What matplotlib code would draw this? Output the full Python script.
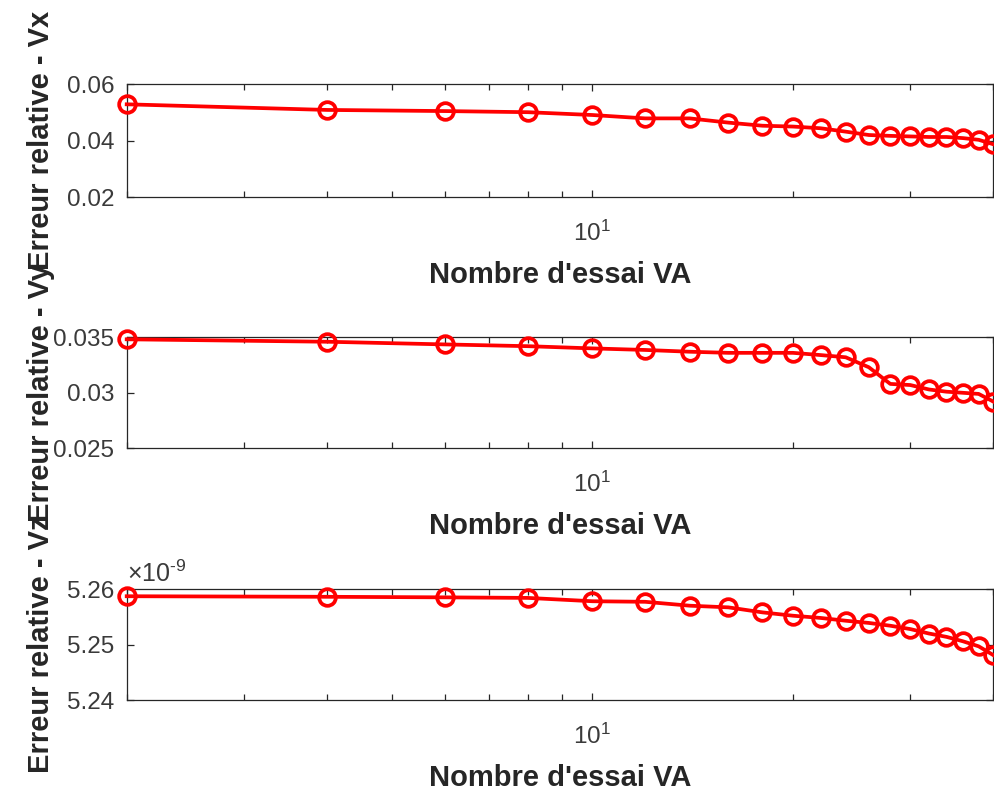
import matplotlib
matplotlib.use('Agg')
import matplotlib.pyplot as plt
from matplotlib.ticker import FixedLocator, NullFormatter, LogLocator

plt.rcParams['font.family'] = ['Liberation Sans', 'DejaVu Sans']
plt.rcParams['mathtext.fontset'] = 'custom'
plt.rcParams['mathtext.rm'] = 'Liberation Sans'
plt.rcParams['mathtext.it'] = 'Liberation Sans:italic'
plt.rcParams['mathtext.bf'] = 'Liberation Sans:bold'

# nombre d'essais
n_essai = [2, 4, 6, 8, 10, 12, 14, 16, 18, 20, 22, 24, 26, 28, 30, 32, 34, 36, 38, 40]

# erreurs relatives
err_vx = [0.0529, 0.0509, 0.0505, 0.0501, 0.0491, 0.0479, 0.0479, 0.0464, 0.0453, 0.0450,
          0.0444, 0.0432, 0.0420, 0.0417, 0.0415, 0.0413, 0.0413, 0.0409, 0.0403, 0.0387]
err_vy = [0.03482, 0.0346, 0.03436, 0.0342, 0.0340, 0.03386, 0.0337, 0.0336, 0.0336, 0.0336,
          0.0334, 0.0332, 0.0323, 0.0308, 0.0307, 0.0303, 0.0301, 0.0300, 0.0299, 0.0292]
err_vz = [5.2587e-9, 5.2586e-9, 5.2585e-9, 5.2584e-9, 5.2578e-9, 5.2577e-9, 5.2570e-9,
          5.2567e-9, 5.2558e-9, 5.2552e-9, 5.2548e-9, 5.2543e-9, 5.2539e-9, 5.2534e-9,
          5.2528e-9, 5.2520e-9, 5.2514e-9, 5.2506e-9, 5.2497e-9, 5.2481e-9]

series = [err_vx, err_vy, err_vz]
ylabels = ['Erreur relative - Vx', 'Erreur relative - Vy', 'Erreur relative - Vz']
ylims = [(0.02, 0.06), (0.025, 0.035), (5.24e-9, 5.26e-9)]
yticks = [[0.02, 0.04, 0.06], [0.025, 0.03, 0.035], [5.24e-9, 5.25e-9, 5.26e-9]]
ytick_labels = [['0.02', '0.04', '0.06'], ['0.025', '0.03', '0.035'], ['5.24', '5.25', '5.26']]

W, H = 994, 798
fig = plt.figure(figsize=(W / 100, H / 100), dpi=100)

# (top, bottom) in pixels for each panel
boxes = [(84.3, 197.0), (337.3, 448.3), (589.0, 700.3)]
left_px, right_px = 126.7, 993.5

dark = '#262626'
for i, (top, bot) in enumerate(boxes):
    ax = fig.add_axes([left_px / W, 1 - bot / H, (right_px - left_px) / W, (bot - top) / H])
    ax.plot(n_essai, series[i], '-o', color='red', lw=2.7, ms=12, mew=2.7,
            mfc='none', clip_on=False, zorder=5)
    ax.set_xscale('log')
    ax.set_xlim(2, 40)
    ax.set_ylim(*ylims[i])
    ax.xaxis.set_major_locator(FixedLocator([10]))
    ax.xaxis.set_minor_locator(LogLocator(base=10, subs=range(2, 10)))
    ax.xaxis.set_minor_formatter(NullFormatter())
    ax.set_xticklabels([r'$\mathdefault{10^{1}}$'])
    ax.set_yticks(yticks[i])
    ax.set_yticklabels(ytick_labels[i])

    for s in ax.spines.values():
        s.set_color(dark)
        s.set_linewidth(0.9)
    ax.tick_params(which='both', direction='in', top=True, right=True,
                   color=dark, width=0.9, labelcolor='#3a3a3a', labelsize=17.5)
    ax.tick_params(which='major', length=5)
    ax.tick_params(which='minor', length=4.5)
    ax.tick_params(axis='x', pad=17)
    ax.tick_params(axis='y', pad=9)

    ax.set_xlabel("Nombre d'essai VA", fontsize=21, fontweight='bold', color=dark, va='top')
    ax.xaxis.set_label_coords(0.5, -0.57)
    ax.set_ylabel(ylabels[i], fontsize=21, fontweight='bold', color=dark)
    ax.yaxis.set_label_coords(-0.083, 0.5)

    if i == 2:
        ax.text(0.0, 1.02, r'$\times\mathdefault{10^{\text{-9}}}$', transform=ax.transAxes,
                fontsize=18, color='#3a3a3a', ha='left', va='bottom')

fig.savefig('out.png', dpi=100)
